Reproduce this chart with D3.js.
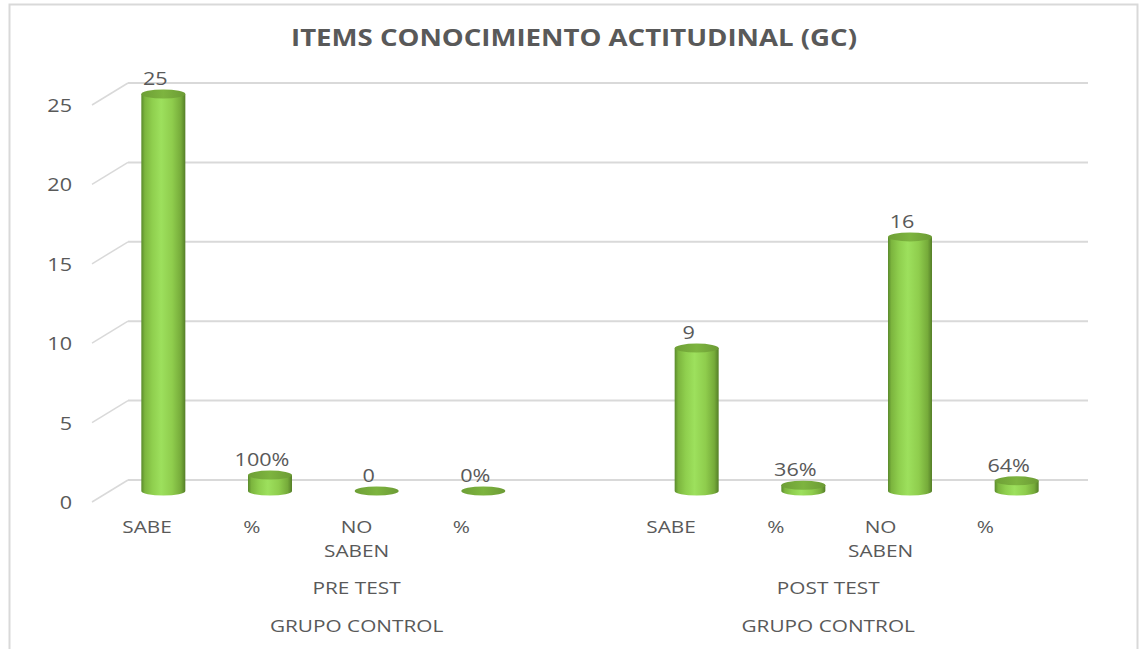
<!DOCTYPE html>
<html>
<head>
<meta charset="utf-8">
<script src="https://cdn.jsdelivr.net/npm/d3@7"></script>
<style>
  body { margin: 0; background: #fff; }
  text { font-family: "Open Sans", "Liberation Sans", sans-serif; fill: #595959; }
</style>
</head>
<body>
<div class="chart"></div>
<script>
(function() {
  'use strict';

  var width = 1139;
  var height = 649;

  // data
  var title = "ITEMS CONOCIMIENTO ACTITUDINAL (GC)";
  var tests = ["PRE TEST", "POST TEST"];
  var groupName = "GRUPO CONTROL";
  var items = ["SABE", "%", "NO SABEN", "%"];
  var preValues = [25, 1, 0, 0];
  var postValues = [9, 0.36, 16, 0.64];
  var preLabels = ["25", "100%", "0", "0%"];
  var postLabels = ["9", "36%", "16", "64%"];
  var yTicks = [0, 5, 10, 15, 20, 25];

  // one empty slot closes the PRE TEST group
  var rows = [];
  items.forEach(function(it, i) {
    rows.push({key: "pre" + i, test: 0, item: it, value: preValues[i], label: preLabels[i]});
  });
  rows.push({key: "gap", test: 0, item: "", value: null, label: ""});
  items.forEach(function(it, i) {
    rows.push({key: "post" + i, test: 1, item: it, value: postValues[i], label: postLabels[i]});
  });
  var keys = rows.map(function(d) { return d.key; });

  var svg = d3.select(".chart").append("svg")
    .attr("width", width)
    .attr("height", height);

  // text is a bit wider than the font gives, stretch it
  function wide(sel, px, py, sx) {
    sel.attr("x", 0).attr("y", 0)
      .attr("transform", function(d, i) {
        return "translate(" + px(d, i) + "," + py(d, i) + ") scale(" + sx + ",1)";
      });
  }

  var defs = svg.append("defs");
  var grad = defs.append("linearGradient").attr("id", "cyl")
    .attr("x1", "0%").attr("x2", "100%").attr("y1", "0%").attr("y2", "0%");
  [["0%", "#5a8a2c"], ["8%", "#7cb53e"], ["25%", "#8fcf4e"], ["45%", "#9de05d"],
   ["70%", "#8fcd4d"], ["90%", "#76ab3a"], ["100%", "#557f28"]].forEach(function(s) {
    grad.append("stop").attr("offset", s[0]).attr("stop-color", s[1]);
  });
  var gradTop = defs.append("linearGradient").attr("id", "cylTop")
    .attr("x1", "0%").attr("x2", "100%").attr("y1", "0%").attr("y2", "0%");
  [["0%", "#6e9f36"], ["50%", "#7db43f"], ["100%", "#6c9b35"]].forEach(function(s) {
    gradTop.append("stop").attr("offset", s[0]).attr("stop-color", s[1]);
  });

  // chart border
  svg.append("rect")
    .attr("x", 9.5).attr("y", 4.5)
    .attr("width", 1128).attr("height", 700)
    .attr("fill", "none")
    .attr("stroke", "#d9d9d9")
    .attr("stroke-width", 2);

  svg.append("text")
    .attr("x", 574).attr("y", 46)
    .attr("text-anchor", "middle")
    .style("font-size", "24px")
    .style("font-weight", "bold")
    .attr("textLength", 566)
    .attr("lengthAdjust", "spacingAndGlyphs")
    .text(title);

  // 3d geometry
  var depthX = 36, depthY = 22;
  var y = d3.scaleLinear().domain([0, 25]).range([480, 83]);
  var x = d3.scaleBand().domain(keys).range([128, 1088]);
  var xl = d3.scaleBand().domain(keys).range([94.6, 1037.8]);

  // walls
  var grid = svg.append("g");
  grid.selectAll(".back").data(yTicks).enter().append("line")
    .attr("x1", 128).attr("x2", 1088)
    .attr("y1", function(d) { return y(d); })
    .attr("y2", function(d) { return y(d); })
    .attr("stroke", "#d9d9d9").attr("stroke-width", 2);
  grid.selectAll(".side").data(yTicks).enter().append("line")
    .attr("x1", 128 - depthX).attr("x2", 128)
    .attr("y1", function(d) { return y(d) + depthY; })
    .attr("y2", function(d) { return y(d); })
    .attr("stroke", "#d9d9d9").attr("stroke-width", 1.5);

  svg.selectAll(".ytick").data(yTicks).enter().append("text")
    .attr("text-anchor", "end")
    .style("font-size", "18px")
    .text(function(d) { return d; })
    .call(wide, function() { return 72; }, function(d) { return y(d) + depthY + 7; }, 1.2);

  // cylinders
  var rx = 22, ry = 4.5;
  var bars = svg.selectAll(".bar")
    .data(rows.filter(function(d) { return d.value !== null; }))
    .enter().append("g").attr("class", "bar");

  function cx(d) { return x(d.key) + x.bandwidth() / 2 - depthX / 2; }
  function yb() { return y(0) + depthY / 2; }
  function yt(d) { return y(d.value) + depthY / 2; }

  bars.filter(function(d) { return d.value > 0; }).append("path")
    .attr("d", function(d) {
      var c = cx(d), b = yb(), t = yt(d);
      return "M" + (c - rx) + "," + t + "L" + (c - rx) + "," + b +
        "A" + rx + "," + ry + " 0 0 0 " + (c + rx) + "," + b +
        "L" + (c + rx) + "," + t + "Z";
    })
    .attr("fill", "url(#cyl)");

  bars.append("ellipse")
    .attr("cx", cx)
    .attr("cy", yt)
    .attr("rx", rx).attr("ry", ry)
    .attr("fill", "url(#cylTop)");

  bars.append("text")
    .attr("text-anchor", "middle")
    .style("font-size", "18px")
    .text(function(d) { return d.label; })
    .call(wide, function(d) { return cx(d) - 8; }, function(d) { return yt(d) - 9; }, 1.2);

  // category labels, NO SABEN wraps
  var catLines = [];
  rows.forEach(function(d) {
    if (d.item === "") return;
    var parts = d.item === "NO SABEN" ? ["NO", "SABEN"] : [d.item];
    parts.forEach(function(p, i) {
      catLines.push({t: p, x: xl(d.key) + xl.bandwidth() / 2, line: i});
    });
  });
  svg.selectAll(".cat").data(catLines).enter().append("text")
    .attr("text-anchor", "middle")
    .style("font-size", "16px")
    .text(function(d) { return d.t; })
    .call(wide, function(d) { return d.x; }, function(d) { return 533 + d.line * 24; }, 1.3);

  // group labels
  tests.forEach(function(t, i) {
    var members = rows.filter(function(d) { return d.test === i; });
    var x0 = xl(members[0].key);
    var x1 = xl(members[members.length - 1].key) + xl.bandwidth();
    var mid = (x0 + x1) / 2;
    svg.append("text")
      .attr("text-anchor", "middle")
      .style("font-size", "16px")
      .text(t)
      .call(wide, function() { return mid; }, function() { return 594; }, 1.3);
    svg.append("text")
      .attr("text-anchor", "middle")
      .style("font-size", "16px")
      .text(groupName)
      .call(wide, function() { return mid; }, function() { return 632; }, 1.3);
  });

})();
</script>
</body>
</html>
